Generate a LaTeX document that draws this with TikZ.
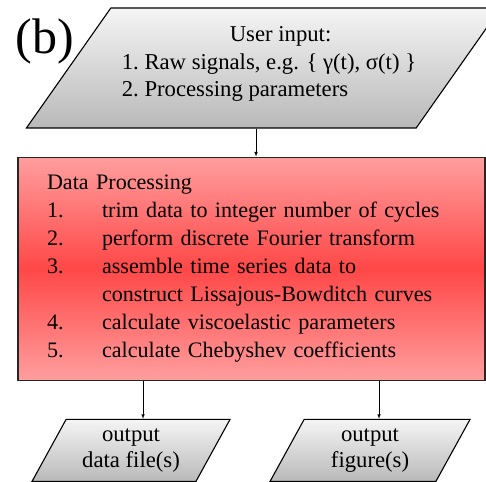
\documentclass[tikz,border=0pt]{standalone}
\usepackage{fontspec}
\setmainfont{Liberation Serif}
\usetikzlibrary{shapes.geometric,arrows,positioning,calc}

\begin{document}
\begin{tikzpicture}[x=1pt, y=1pt,
    iobox/.style={trapezium, trapezium stretches body, draw=black, line width=1.1pt, inner sep=0pt, top color=gray!8, bottom color=gray!55, align=center, font=\fontsize{22.7}{26}\selectfont},
    procbox/.style={rectangle, draw=black!85, line width=1.3pt, top color=red!38, bottom color=red!38, middle color=red!72, inner xsep=29pt, inner ysep=0pt, text width=409pt, minimum height=223pt, align=left, font=\fontsize{22.1}{27.9}\selectfont},
    flow/.style={-latex, line width=0.6pt}
]
\useasboundingbox (0,0) rectangle (486,-481);

\node[font=\fontsize{50}{50}\selectfont] (panel) at (45,-41) {(b)};

\node[iobox, trapezium left angle=47, trapezium right angle=133, minimum width=441pt, minimum height=120pt] (input) at (263.5,-68) {%
    \fontsize{22.7}{27.5}\selectfont
    \begin{tabular}{@{\hspace{11pt}}l@{}}
        \hspace*{108pt}User input:\\
        1.\ Raw signals, e.g. \{ γ(t), σ(t) \}\\
        2.\ Processing parameters\\[8pt]
    \end{tabular}};

\node[procbox, below=28pt of input, xshift=-12pt] (proc) {Data Processing\\
    \makebox[55pt][l]{1.}trim data to integer number of cycles\\
    \makebox[55pt][l]{2.}perform discrete Fourier transform\\
    \makebox[55pt][l]{3.}assemble time series data to\\
    \makebox[55pt][l]{}construct Lissajous-Bowditch curves\\
    \makebox[55pt][l]{4.}calculate viscoelastic parameters\\
    \makebox[55pt][l]{5.}calculate Chebyshev coefficients};

\node[iobox, trapezium left angle=52, trapezium right angle=128, minimum width=198pt, minimum height=62pt, below=38pt of proc, xshift=-120.5pt] (outdata) {output\\data file(s)\hspace{10pt}};
\node[iobox, trapezium left angle=52, trapezium right angle=128, minimum width=200pt, minimum height=62pt, below=38pt of proc, xshift=118.5pt] (outfig) {output\\figure(s)\hspace{8pt}};

% connectors
\draw[flow] ([xshift=-7.5pt]input.south) -- ([xshift=-7.5pt]input.south |- proc.north);
\draw[flow] ([xshift=12pt]outdata.north |- proc.south) -- ([xshift=12pt]outdata.north);
\draw[flow] ([xshift=9pt]outfig.north |- proc.south) -- ([xshift=9pt]outfig.north);

\end{tikzpicture}
\end{document}
